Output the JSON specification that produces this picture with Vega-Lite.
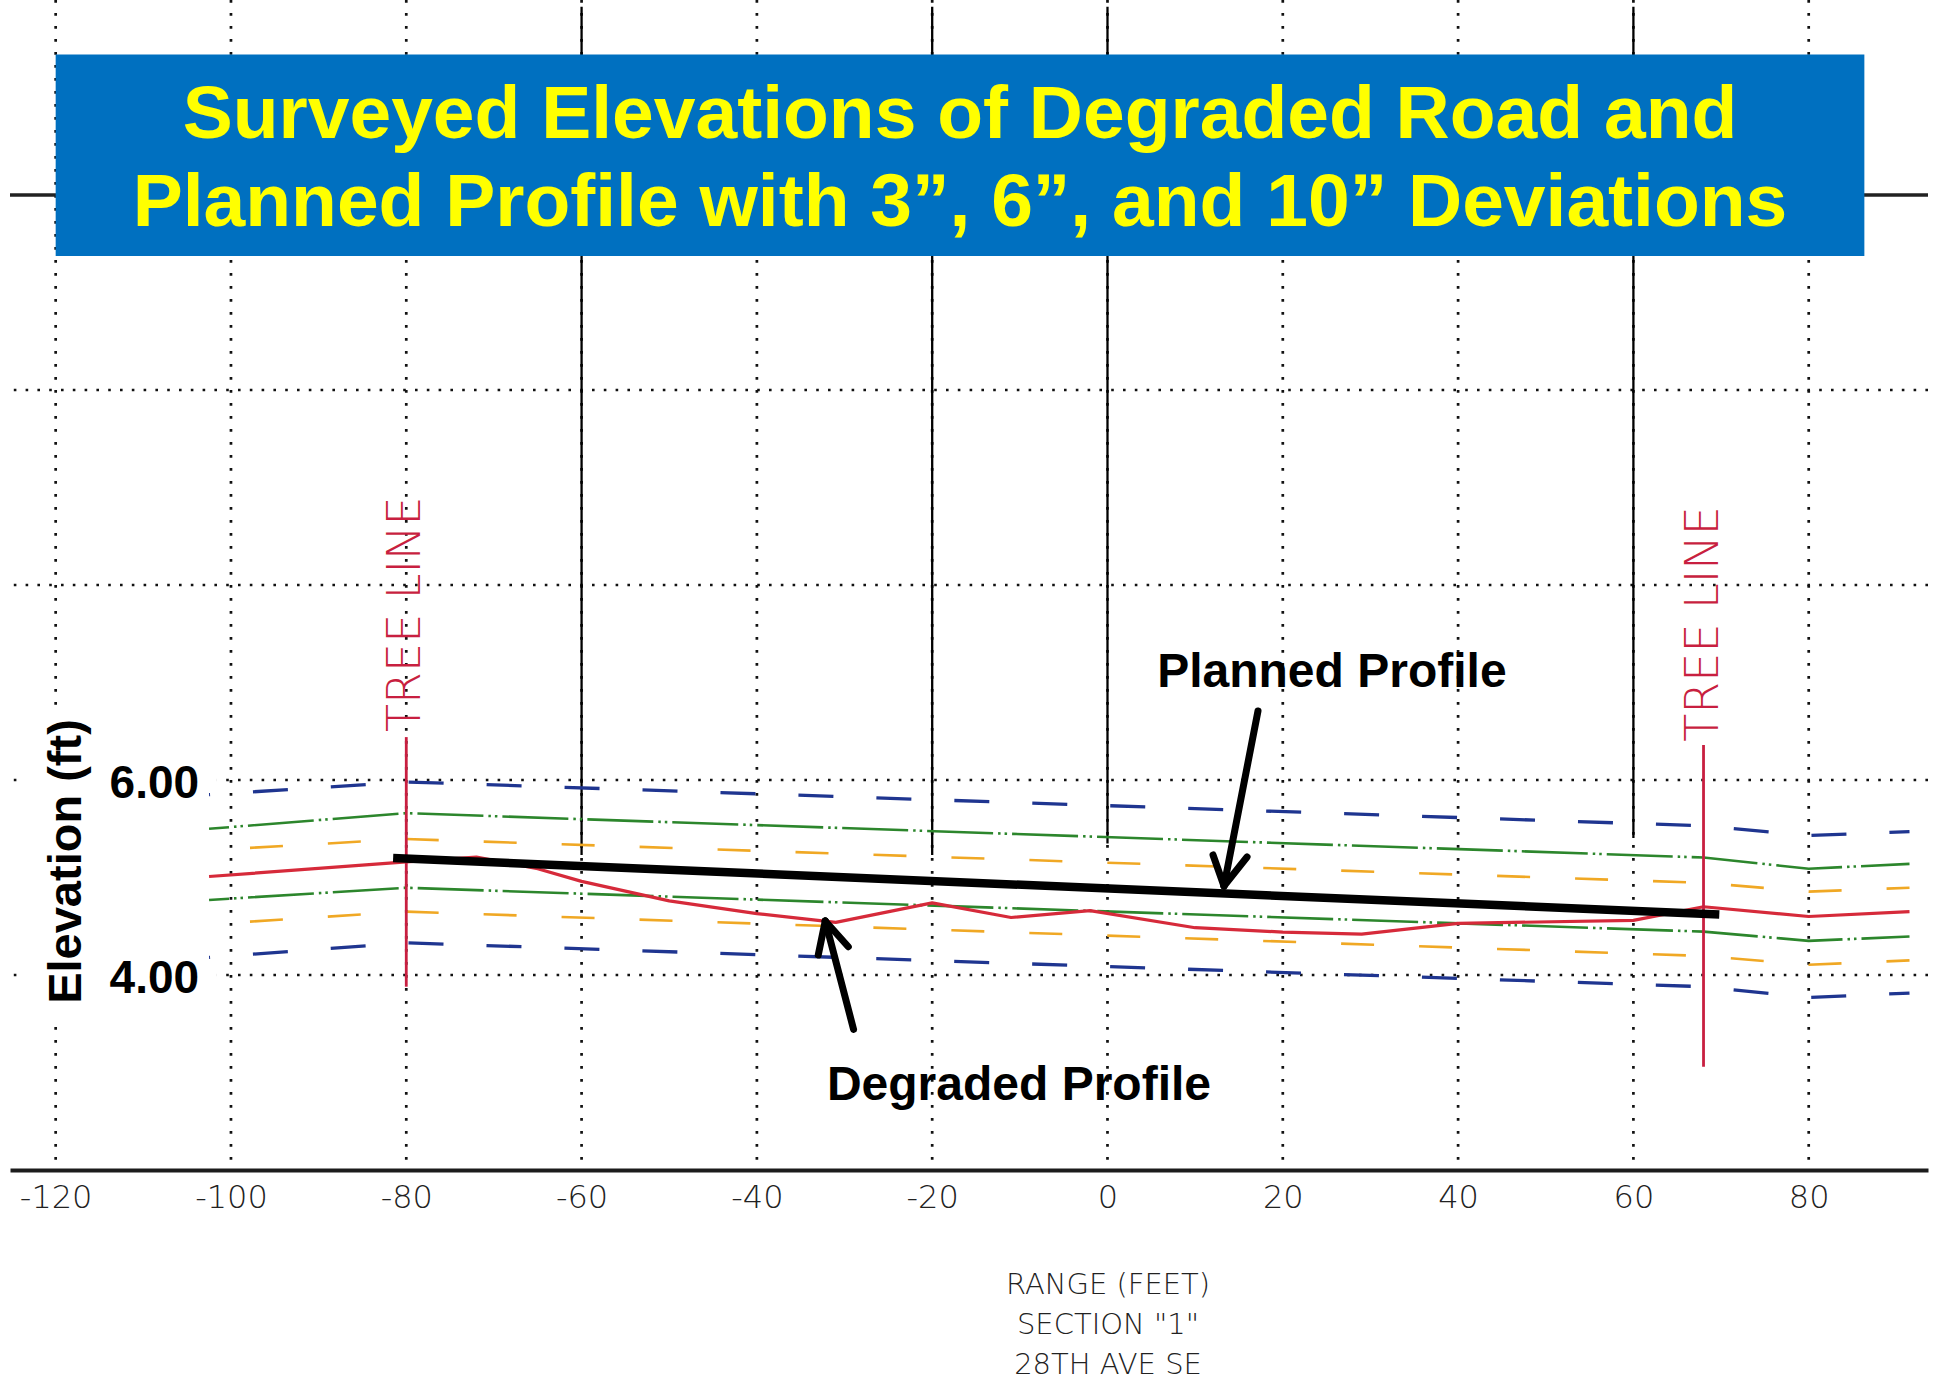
{
  "$schema": "https://vega.github.io/schema/vega-lite/v6.json",
  "width": 1918,
  "height": 1170,
  "autosize": {"type": "none"},
  "padding": {"left": 10, "top": 0, "right": 12, "bottom": 212},
  "background": "white",
  "config": {"view": {"stroke": null}},
  "data": {"values": [{}]},
  "resolve": {"axis": {"x": "independent", "y": "independent"}},
  "datasets": {
    "vgrid": [{"range": -120}, {"range": -100}, {"range": -80}, {"range": -60}, {"range": -40}, {"range": -20}, {"range": 0}, {"range": 20}, {"range": 40}, {"range": 60}, {"range": 80}],
    "hgrid": [{"elev": 4}, {"elev": 6}, {"elev": 8}, {"elev": 10}],
    "stations": [
      {"range": -60, "elev_top": 13.93, "elev_bottom": 5.23},
      {"range": -20, "elev_top": 13.93, "elev_bottom": 5.23},
      {"range": 0, "elev_top": 13.93, "elev_bottom": 5.35},
      {"range": 60, "elev_top": 13.93, "elev_bottom": 5.405}
    ],
    "bands": [
      {"series": "Upper 10in", "range": -102.5, "elev": 5.85},
      {"series": "Upper 10in", "range": -80, "elev": 5.98},
      {"series": "Upper 10in", "range": 68, "elev": 5.53},
      {"series": "Upper 10in", "range": 80, "elev": 5.43},
      {"series": "Upper 10in", "range": 91.5, "elev": 5.47},
      {"series": "Upper 6in", "range": -102.5, "elev": 5.5},
      {"series": "Upper 6in", "range": -80, "elev": 5.66},
      {"series": "Upper 6in", "range": 68, "elev": 5.205},
      {"series": "Upper 6in", "range": 80, "elev": 5.09},
      {"series": "Upper 6in", "range": 91.5, "elev": 5.14},
      {"series": "Upper 3in", "range": -102.5, "elev": 5.28},
      {"series": "Upper 3in", "range": -80, "elev": 5.395},
      {"series": "Upper 3in", "range": 68, "elev": 4.945},
      {"series": "Upper 3in", "range": 80, "elev": 4.855},
      {"series": "Upper 3in", "range": 91.5, "elev": 4.895},
      {"series": "Lower 3in", "range": -102.5, "elev": 4.77},
      {"series": "Lower 3in", "range": -80, "elev": 4.895},
      {"series": "Lower 3in", "range": 68, "elev": 4.445},
      {"series": "Lower 3in", "range": 80, "elev": 4.35},
      {"series": "Lower 3in", "range": 91.5, "elev": 4.395},
      {"series": "Lower 6in", "range": -102.5, "elev": 4.52},
      {"series": "Lower 6in", "range": -80, "elev": 4.65},
      {"series": "Lower 6in", "range": 68, "elev": 4.195},
      {"series": "Lower 6in", "range": 80, "elev": 4.105},
      {"series": "Lower 6in", "range": 91.5, "elev": 4.15},
      {"series": "Lower 10in", "range": -102.5, "elev": 4.18},
      {"series": "Lower 10in", "range": -80, "elev": 4.33},
      {"series": "Lower 10in", "range": 68, "elev": 3.88},
      {"series": "Lower 10in", "range": 80, "elev": 3.77},
      {"series": "Lower 10in", "range": 91.5, "elev": 3.815}
    ],
    "degraded": [
      {"range": -102.5, "elev": 5.01},
      {"range": -80, "elev": 5.16},
      {"range": -72, "elev": 5.21},
      {"range": -65, "elev": 5.09},
      {"range": -60, "elev": 4.96},
      {"range": -50, "elev": 4.76},
      {"range": -40, "elev": 4.63},
      {"range": -31, "elev": 4.54},
      {"range": -20, "elev": 4.74},
      {"range": -11, "elev": 4.59},
      {"range": -2, "elev": 4.66},
      {"range": 10, "elev": 4.485},
      {"range": 20, "elev": 4.44},
      {"range": 29, "elev": 4.42},
      {"range": 40, "elev": 4.53},
      {"range": 60, "elev": 4.56},
      {"range": 68, "elev": 4.7},
      {"range": 80, "elev": 4.6},
      {"range": 91.5, "elev": 4.65}
    ],
    "planned": [
      {"range": -81.5, "elev": 5.2},
      {"range": 69.8, "elev": 4.62}
    ],
    "treelines": [
      {"range": -80, "elev_top": 6.44, "elev_bottom": 3.88},
      {"range": 68, "elev_top": 6.36, "elev_bottom": 3.06}
    ],
    "arrows": [
      {"range": 17.17, "elev": 6.708, "range2": 13.29, "elev2": 4.913},
      {"range": 13.29, "elev": 4.913, "range2": 12.04, "elev2": 5.231},
      {"range": 13.29, "elev": 4.913, "range2": 15.92, "elev2": 5.21},
      {"range": -28.97, "elev": 3.443, "range2": -32.2, "elev2": 4.554},
      {"range": -32.2, "elev": 4.554, "range2": -33.0, "elev2": 4.205},
      {"range": -32.2, "elev": 4.554, "range2": -29.57, "elev2": 4.29}
    ]
  },
  "layer": [
    {
      "data": {"name": "vgrid"},
      "mark": {"type": "rule", "color": "#111111", "strokeWidth": 2.7, "strokeDash": [2.7, 10.3]},
      "encoding": {
        "x": {
          "field": "range", "type": "quantitative",
          "scale": {"domain": [-125.21, 93.61], "nice": false, "zero": false},
          "axis": {
            "orient": "bottom",
            "values": [-120, -100, -80, -60, -40, -20, 0, 20, 40, 60, 80],
            "labelExpr": "datum.value + ''",
            "domain": true, "domainColor": "#1c1c1c", "domainWidth": 4,
            "ticks": false, "tickSize": 0, "grid": false,
            "labelPadding": 12, "labelFont": "DejaVu Sans", "labelFontWeight": 200,
            "labelFontSize": 32, "labelColor": "#222222",
            "labelBound": false, "labelFlush": false, "labelOverlap": false,
            "title": ["RANGE (FEET)", "SECTION \"1\"", "28TH AVE SE"],
            "titleFont": "DejaVu Sans", "titleFontWeight": 200, "titleFontSize": 29,
            "titleColor": "#222222", "titleLineHeight": 40,
            "titleX": 1097.5, "titleY": 123, "titleAlign": "center", "titleBaseline": "alphabetic", "titleAngle": 0
          }
        }
      }
    },
    {
      "data": {"name": "hgrid"},
      "mark": {"type": "rule", "color": "#111111", "strokeWidth": 2.6, "strokeDash": [2.6, 9.2]},
      "encoding": {
        "y": {
          "field": "elev", "type": "quantitative",
          "scale": {"domain": [2, 14], "nice": false, "zero": false},
          "axis": {
            "orient": "left", "offset": -190, "zindex": 1,
            "values": [4, 6], "format": ".2f",
            "domain": false, "ticks": false, "tickSize": 0, "grid": false,
            "labelPadding": 1.4, "labelFont": "Liberation Sans", "labelFontWeight": "bold",
            "labelFontSize": 46, "labelColor": "#000000", "labelBaseline": "middle", "labelOffset": 3,
            "labelBound": false, "labelFlush": false, "labelOverlap": false,
            "title": "Elevation (ft)", "titleFont": "Liberation Sans", "titleFontWeight": "bold",
            "titleFontSize": 47, "titleColor": "#000000", "titleAngle": -90,
            "titleAlign": "center", "titleBaseline": "alphabetic", "titleX": -120, "titleY": 861
          }
        }
      }
    },
    {
      "mark": {"type": "rect", "color": "#ffffff"},
      "encoding": {
        "x": {"datum": -123.5, "type": "quantitative", "axis": null},
        "x2": {"datum": -101.6},
        "y": {"datum": 6.697, "type": "quantitative", "axis": null},
        "y2": {"datum": 3.477}
      }
    },
    {
      "mark": {"type": "rule", "color": "#222222", "strokeWidth": 3.5},
      "encoding": {"y": {"datum": 12, "type": "quantitative", "axis": null}}
    },
    {
      "data": {"name": "stations"},
      "mark": {"type": "rule", "color": "#000000", "strokeWidth": 2.3},
      "encoding": {
        "x": {"field": "range", "type": "quantitative", "axis": null},
        "y": {"field": "elev_top", "type": "quantitative", "axis": null},
        "y2": {"field": "elev_bottom"}
      }
    },
    {
      "data": {"name": "bands"},
      "transform": [{"filter": {"field": "series", "oneOf": ["Upper 10in", "Lower 10in"]}}],
      "mark": {"type": "line", "color": "#1f3590", "strokeWidth": 3.3, "strokeDash": [35, 43], "strokeDashOffset": 34, "strokeCap": "butt"},
      "encoding": {
        "x": {"field": "range", "type": "quantitative", "axis": null},
        "y": {"field": "elev", "type": "quantitative", "axis": null},
        "detail": {"field": "series"}
      }
    },
    {
      "data": {"name": "bands"},
      "transform": [{"filter": {"field": "series", "oneOf": ["Upper 3in", "Lower 6in"]}}],
      "mark": {"type": "line", "color": "#f0a824", "strokeWidth": 2.6, "strokeDash": [33, 45], "strokeDashOffset": 37, "strokeCap": "butt"},
      "encoding": {
        "x": {"field": "range", "type": "quantitative", "axis": null},
        "y": {"field": "elev", "type": "quantitative", "axis": null},
        "detail": {"field": "series"}
      }
    },
    {
      "data": {"name": "bands"},
      "transform": [{"filter": {"field": "series", "oneOf": ["Upper 6in", "Lower 3in"]}}],
      "mark": {"type": "line", "color": "#2c862c", "strokeWidth": 2.6, "strokeDash": [66, 5, 2.5, 4, 2.5, 5], "strokeDashOffset": 46, "strokeCap": "butt"},
      "encoding": {
        "x": {"field": "range", "type": "quantitative", "axis": null},
        "y": {"field": "elev", "type": "quantitative", "axis": null},
        "detail": {"field": "series"}
      }
    },
    {
      "data": {"name": "degraded"},
      "mark": {"type": "line", "color": "#d62a3a", "strokeWidth": 3.2, "strokeJoin": "round"},
      "encoding": {
        "x": {"field": "range", "type": "quantitative", "axis": null},
        "y": {"field": "elev", "type": "quantitative", "axis": null}
      }
    },
    {
      "data": {"name": "treelines"},
      "mark": {"type": "rule", "color": "#c81f40", "strokeWidth": 2.8},
      "encoding": {
        "x": {"field": "range", "type": "quantitative", "axis": null},
        "y": {"field": "elev_top", "type": "quantitative", "axis": null},
        "y2": {"field": "elev_bottom"}
      }
    },
    {
      "mark": {"type": "text", "text": "TREE LINE", "angle": 270, "align": "center", "baseline": "middle", "font": "DejaVu Sans", "fontWeight": 200, "fontSize": 46, "color": "#c81f40"},
      "encoding": {
        "x": {"datum": -80, "type": "quantitative", "axis": null},
        "y": {"datum": 7.7, "type": "quantitative", "axis": null}
      }
    },
    {
      "mark": {"type": "text", "text": "TREE LINE", "angle": 270, "align": "center", "baseline": "middle", "font": "DejaVu Sans", "fontWeight": 200, "fontSize": 46, "color": "#c81f40"},
      "encoding": {
        "x": {"datum": 68, "type": "quantitative", "axis": null},
        "y": {"datum": 7.6, "type": "quantitative", "axis": null}
      }
    },
    {
      "data": {"name": "planned"},
      "mark": {"type": "line", "color": "#000000", "strokeWidth": 8.5, "strokeCap": "butt"},
      "encoding": {
        "x": {"field": "range", "type": "quantitative", "axis": null},
        "y": {"field": "elev", "type": "quantitative", "axis": null}
      }
    },
    {
      "mark": {"type": "rect", "color": "#0070c0"},
      "encoding": {
        "x": {"datum": -120, "type": "quantitative", "axis": null},
        "x2": {"datum": 86.35},
        "y": {"datum": 13.442, "type": "quantitative", "axis": null},
        "y2": {"datum": 11.374}
      }
    },
    {
      "mark": {"type": "text", "text": "Surveyed Elevations of Degraded Road and", "align": "center", "baseline": "alphabetic", "font": "Liberation Sans", "fontWeight": "bold", "fontSize": 75, "color": "#ffff00"},
      "encoding": {
        "x": {"datum": -16.83, "type": "quantitative", "axis": null},
        "y": {"datum": 12.585, "type": "quantitative", "axis": null}
      }
    },
    {
      "mark": {"type": "text", "text": "Planned Profile with 3”, 6”, and 10” Deviations", "align": "center", "baseline": "alphabetic", "font": "Liberation Sans", "fontWeight": "bold", "fontSize": 75, "color": "#ffff00"},
      "encoding": {
        "x": {"datum": -16.83, "type": "quantitative", "axis": null},
        "y": {"datum": 11.68, "type": "quantitative", "axis": null}
      }
    },
    {
      "mark": {"type": "text", "text": "Planned Profile", "align": "center", "baseline": "alphabetic", "font": "Liberation Sans", "fontWeight": "bold", "fontSize": 48, "color": "#000000"},
      "encoding": {
        "x": {"datum": 25.6, "type": "quantitative", "axis": null},
        "y": {"datum": 6.95, "type": "quantitative", "axis": null}
      }
    },
    {
      "mark": {"type": "text", "text": "Degraded Profile", "align": "center", "baseline": "alphabetic", "font": "Liberation Sans", "fontWeight": "bold", "fontSize": 48, "color": "#000000"},
      "encoding": {
        "x": {"datum": -10.1, "type": "quantitative", "axis": null},
        "y": {"datum": 2.718, "type": "quantitative", "axis": null}
      }
    },
    {
      "data": {"name": "arrows"},
      "mark": {"type": "rule", "color": "#000000", "strokeWidth": 7, "strokeCap": "round"},
      "encoding": {
        "x": {"field": "range", "type": "quantitative", "axis": null},
        "y": {"field": "elev", "type": "quantitative", "axis": null},
        "x2": {"field": "range2"},
        "y2": {"field": "elev2"}
      }
    }
  ]
}
